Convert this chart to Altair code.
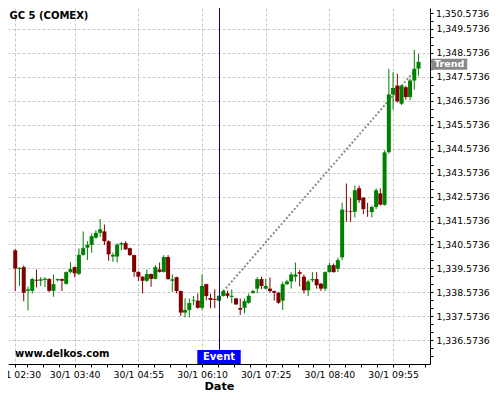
import altair as alt
import pandas as pd
import numpy as np

# ---------------- data ----------------
first_time = "2024-01-30 02:30"          # first 5-minute candle
opens = [1340.33, 1339.55, 1339.63, 1338.64, 1338.64, 1339.10, 1339.06, 1339.10, 1339.13, 1338.64,
         1339.08, 1339.13, 1338.93, 1339.42, 1339.63, 1339.35, 1340.14, 1340.44, 1340.56, 1340.86,
         1341.06, 1341.12, 1340.71, 1340.07, 1340.07, 1340.57, 1340.63, 1340.42, 1340.13, 1339.43,
         1339.23, 1339.06, 1339.34, 1339.14, 1339.53, 1339.43, 1340.05, 1339.06, 1339.21, 1338.63,
         1337.73, 1337.84, 1338.23, 1338.23, 1337.93, 1338.92, 1338.34, 1338.30, 1338.23, 1338.43,
         1338.53, 1338.39, 1338.32, 1337.92, 1337.93, 1338.14, 1338.55, 1338.73, 1339.13, 1338.73,
         1338.73, 1338.63, 1338.56, 1338.23, 1338.92, 1339.03, 1339.23, 1339.42, 1339.23, 1338.66,
         1339.08, 1339.13, 1338.94, 1338.73, 1339.42, 1339.71, 1339.56, 1340.04, 1341.98, 1341.96,
         1341.94, 1342.92, 1342.53, 1341.96, 1341.93, 1342.14, 1342.71, 1342.23, 1344.43, 1346.84,
         1347.21, 1346.45, 1347.14, 1346.73, 1347.42, 1347.92]
highs = [1340.38, 1339.62, 1339.70, 1338.82, 1339.18, 1339.53, 1339.21, 1339.20, 1339.17, 1339.32,
         1339.15, 1339.15, 1339.45, 1339.84, 1339.66, 1340.41, 1341.12, 1340.71, 1341.03, 1341.17,
         1341.63, 1341.41, 1340.75, 1340.23, 1340.63, 1340.68, 1340.71, 1340.44, 1340.15, 1339.45,
         1339.25, 1339.53, 1339.36, 1339.71, 1339.82, 1340.13, 1340.13, 1339.32, 1339.23, 1338.65,
         1338.32, 1338.32, 1338.42, 1338.53, 1339.32, 1338.94, 1338.52, 1338.70, 1338.45, 1338.68,
         1338.64, 1338.70, 1338.35, 1338.32, 1338.32, 1338.53, 1338.68, 1339.21, 1339.23, 1339.14,
         1339.20, 1338.65, 1338.58, 1339.02, 1339.10, 1339.41, 1339.82, 1339.50, 1339.32, 1339.10,
         1339.42, 1339.42, 1338.96, 1339.45, 1339.82, 1339.78, 1340.02, 1342.32, 1343.12, 1342.53,
         1343.03, 1343.03, 1342.55, 1342.31, 1342.20, 1342.92, 1342.92, 1344.50, 1347.91, 1347.77,
         1347.70, 1347.25, 1347.20, 1347.50, 1348.70, 1348.53]
lows = [1338.63, 1338.84, 1338.20, 1337.82, 1338.53, 1338.78, 1338.84, 1338.80, 1338.59, 1338.39,
        1339.03, 1338.63, 1338.90, 1339.37, 1339.20, 1339.30, 1340.10, 1339.92, 1340.23, 1340.80,
        1340.89, 1340.55, 1339.89, 1339.85, 1339.82, 1340.34, 1340.35, 1340.10, 1339.23, 1339.05,
        1338.53, 1339.00, 1338.81, 1339.12, 1339.40, 1339.40, 1339.10, 1338.60, 1338.53, 1337.59,
        1337.53, 1337.53, 1338.05, 1337.90, 1337.84, 1338.24, 1337.91, 1337.92, 1338.20, 1338.40,
        1338.34, 1338.12, 1338.05, 1337.63, 1337.70, 1338.10, 1338.52, 1338.53, 1338.71, 1338.70,
        1338.55, 1338.23, 1338.10, 1337.84, 1338.88, 1338.73, 1339.02, 1338.82, 1338.53, 1338.42,
        1339.00, 1338.73, 1338.63, 1338.63, 1339.40, 1339.40, 1339.42, 1339.92, 1341.52, 1341.52,
        1341.70, 1342.31, 1341.84, 1341.73, 1341.70, 1342.05, 1342.20, 1342.20, 1344.36, 1346.21,
        1346.50, 1346.40, 1346.62, 1346.60, 1347.04, 1347.62]
closes = [1339.57, 1339.60, 1338.56, 1338.70, 1339.13, 1339.06, 1339.12, 1339.15, 1338.64, 1338.92,
          1339.13, 1339.06, 1339.42, 1339.55, 1339.37, 1340.14, 1340.42, 1340.56, 1340.92, 1341.06,
          1341.21, 1340.71, 1340.16, 1340.14, 1340.57, 1340.63, 1340.37, 1340.13, 1339.43, 1339.23,
          1339.06, 1339.34, 1339.14, 1339.63, 1339.43, 1340.05, 1339.13, 1339.12, 1338.63, 1337.73,
          1337.84, 1338.13, 1338.26, 1337.93, 1338.84, 1338.42, 1338.26, 1338.26, 1338.43, 1338.63,
          1338.43, 1338.43, 1338.07, 1337.85, 1338.21, 1338.43, 1338.63, 1339.13, 1338.84, 1338.84,
          1338.63, 1338.56, 1338.14, 1338.92, 1339.03, 1339.32, 1339.32, 1339.35, 1338.66, 1339.03,
          1339.13, 1338.87, 1338.73, 1339.42, 1339.71, 1339.42, 1339.92, 1342.03, 1341.96, 1341.93,
          1342.84, 1342.42, 1342.05, 1341.95, 1342.14, 1342.84, 1342.24, 1344.42, 1346.84, 1347.11,
          1346.55, 1347.21, 1346.73, 1347.42, 1347.91, 1348.20]

event_time = "2024-01-30T06:30:00"
trend_times = ["2024-01-30T06:35:00", "2024-01-30T10:27:00"]
trend_prices = [1338.62, 1348.10]

title_text = "GC 5 (COMEX)"
watermark_text = "www.delkos.com"

x_major = [(2, 30), (3, 40), (4, 55), (6, 10), (7, 25), (8, 40), (9, 55)]
x_minor = [(2, 43, 45), (3, 2, 30), (3, 21, 15),
           (3, 58, 45), (4, 17, 30), (4, 36, 15),
           (5, 13, 45), (5, 32, 30), (5, 51, 15),
           (6, 28, 45), (6, 47, 30), (7, 6, 15),
           (7, 43, 45), (8, 2, 30), (8, 21, 15),
           (8, 58, 45), (9, 17, 30), (9, 36, 15),
           (10, 13, 45), (10, 32, 30)]
y_major = [1336.5736, 1337.5736, 1338.5736, 1339.5736, 1340.5736, 1341.5736, 1342.5736,
           1343.5736, 1344.5736, 1345.5736, 1346.5736, 1347.5736, 1348.5736, 1349.5736]
y_top_label = 1350.5736      # top label, sits at the very top edge of the picture
y_minor = [1335.9069, 1336.2403, 1336.9069, 1337.2403, 1337.9069, 1338.2403, 1338.9069,
           1339.2403, 1339.9069, 1340.2403, 1340.9069, 1341.2403, 1341.9069, 1342.2403,
           1342.9069, 1343.2403, 1343.9069, 1344.2403, 1344.9069, 1345.2403, 1345.9069,
           1346.2403, 1346.9069, 1347.2403, 1347.9069, 1348.2403, 1348.9069, 1349.2403,
           1349.9069, 1350.2403]

# ---------------- tables ----------------
times = pd.date_range(first_time, periods=len(opens), freq="5min")
df = pd.DataFrame({"time": times, "open": opens, "high": highs, "low": lows, "close": closes})
df["dir"] = np.where(df["close"] >= df["open"], "up", "down")
trend_df = pd.DataFrame({"time": pd.to_datetime(trend_times), "price": trend_prices})
event_df = pd.DataFrame({"time": [pd.Timestamp(event_time)]})
trend_lbl = pd.DataFrame({"price": [trend_prices[-1]], "label": ["Trend"]})

FONT = "DejaVu Sans"
W, H = 422, 356


def dt(h, m, s=0):
    return alt.DateTime(year=2024, month=1, date=30, hours=h, minutes=m, seconds=s)


x_scale = alt.Scale(domain=[dt(2, 27, 21), dt(10, 32, 36)])
y_scale = alt.Scale(domain=[1335.584, 1350.448], zero=False, nice=False)

X_MAJ = "seconds(datum.value) == 0"
Y_MAJ = "abs(datum.value - 0.5736 - round(datum.value - 0.5736)) < 0.01"

x_axis = alt.Axis(
    values=[dt(*t) for t in x_major] + [dt(*t) for t in x_minor],
    labelExpr=f"{X_MAJ} ? timeFormat(datum.value, '%d/%-m %H:%M') : ''",
    labelFont=FONT, labelFontSize=9.3, labelColor="#000000", labelFlush=False,
    labelOverlap=False, labelPadding=3,
    tickSize=3, tickColor="#000000",
    domainColor="#000000", domainWidth=1,
    grid=True, gridColor="#c8c8c8", gridDash=[3, 2],
    gridOpacity={"condition": {"test": X_MAJ, "value": 1}, "value": 0},
    title="Date", titleFont=FONT, titleFontSize=11.3, titleFontWeight="bold",
    titleColor="#000000", titlePadding=1,
)
y_axis = alt.Axis(
    orient="right",
    values=y_major + y_minor,
    labelExpr=f"{Y_MAJ} ? format(datum.value, ',.4f') : ''",
    labelFont=FONT, labelFontSize=9.3, labelColor="#000000", labelFlush=False,
    labelOverlap=False, labelPadding=3,
    tickSize=3, tickColor="#000000",
    domainColor="#000000", domainWidth=1,
    grid=True, gridColor="#c8c8c8", gridDash=[3, 2],
    gridOpacity={"condition": {"test": Y_MAJ, "value": 1}, "value": 0},
    title=None,
)

X = alt.X("time:T", scale=x_scale, axis=x_axis, title="Date")


def Y(field):
    return alt.Y(field, type="quantitative", scale=y_scale, axis=y_axis, title=None)


color = alt.Color("dir:N", scale=alt.Scale(domain=["up", "down"], range=["#008000", "#800000"]),
                  legend=None)

trend = alt.Chart(trend_df).mark_line(color="#8c8c8c", strokeWidth=2, strokeDash=[2, 2]).encode(
    x=X, y=Y("price"))

wicks = alt.Chart(df).mark_rule(strokeWidth=1).encode(x=X, y=Y("low"), y2="high", color=color)
bodies = alt.Chart(df).mark_bar(size=4).encode(x=X, y=Y("open"), y2="close", color=color)

event_line = alt.Chart(event_df).mark_rule(color="#00008b", strokeWidth=1, xOffset=0.5).encode(x=X)
event_box = alt.Chart(event_df).mark_point(
    shape="M-1,-0.3226L1,-0.3226L1,0.3226L-1,0.3226Z", size=1884, filled=True,
    color="#0000ff", opacity=1, strokeWidth=0).encode(x=X, y=alt.value(349))
event_txt = alt.Chart(event_df).mark_text(
    text="Event", color="#ffffff", font=FONT, fontSize=10, fontWeight="bold",
    align="center", baseline="middle").encode(x=X, y=alt.value(349))

trend_box = alt.Chart(trend_lbl).mark_point(
    shape="M-1,-0.3056L1,-0.3056L1,0.3056L-1,0.3056Z", size=1296, filled=True,
    color="#888888", opacity=1, strokeWidth=0).encode(x=alt.value(441.2), y=Y("price"))
trend_txt = alt.Chart(trend_lbl).mark_text(
    color="#ffffff", font=FONT, fontSize=9.5, fontWeight="bold",
    align="center", baseline="middle").encode(x=alt.value(441.2), y=Y("price"), text="label:N")

top_lbl = alt.Chart(pd.DataFrame({"t": [f"{y_top_label:,.4f}"]})).mark_text(
    font=FONT, fontSize=9.3, color="#000000", align="left", baseline="middle"
).encode(x=alt.value(W + 6), y=alt.value(6), text="t:N")

title = alt.Chart(pd.DataFrame({"t": [title_text]})).mark_text(
    font=FONT, fontSize=10, fontWeight="bold", color="#000000", align="left",
    baseline="middle").encode(x=alt.value(1.5), y=alt.value(7.8), text="t:N")
watermark = alt.Chart(pd.DataFrame({"t": [watermark_text]})).mark_text(
    font=FONT, fontSize=10, fontWeight="bold", color="#000000", align="left",
    baseline="alphabetic").encode(x=alt.value(7), y=alt.value(349.3), text="t:N")

chart = alt.layer(
    trend, wicks, bodies, event_line, event_box, event_txt, trend_box, trend_txt,
    top_lbl, title, watermark
).properties(
    width=W, height=H,
    autosize=alt.AutoSizeParams(type="none"),
    padding={"left": 0, "top": 0, "right": 62, "bottom": 28},
    background="#ffffff",
).configure_view(stroke=None)

chart.save("out.html", embed_options={"renderer": "svg", "actions": False})
